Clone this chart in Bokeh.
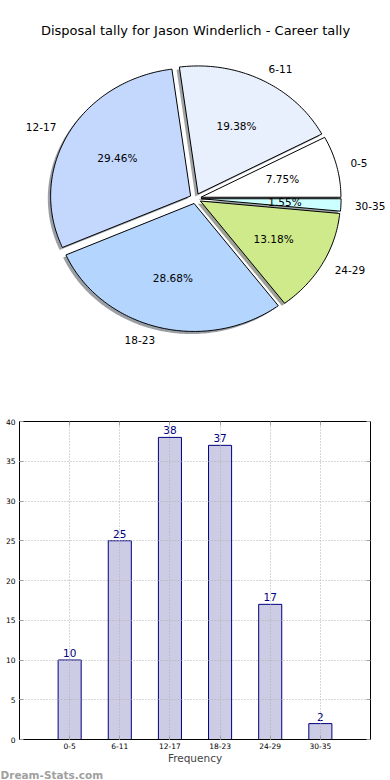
import numpy as np
from bokeh.plotting import figure
from bokeh.models import (ColumnDataSource, Range1d, FactorRange, Label, Title,
                          LinearAxis, CategoricalAxis, FixedTicker)
from bokeh.core.properties import value
from bokeh.embed import file_html
from bokeh.resources import INLINE

# ---------------- data ----------------
categories = ["0-5", "6-11", "12-17", "18-23", "24-29", "30-35"]
tally = [10, 25, 38, 37, 17, 2]
pie_colors = ["#FFFFFF", "#E8F0FE", "#C4D8FE", "#B4D5FE", "#CEEA8A", "#CCFFFF"]
title_text = "Disposal tally for Jason Winderlich - Career tally"
x_axis_label = "Frequency"
y_ticks = [0, 5, 10, 15, 20, 25, 30, 35, 40]
watermark = "Dream-Stats.com"

FONT = value("DejaVu Sans")

# ---------------- pie ----------------
explode = 0.04
total = float(sum(tally))
fracs = [v / total for v in tally]
starts = np.concatenate([[0.0], np.cumsum(fracs)[:-1]]) * 360.0
ends = np.cumsum(fracs) * 360.0

xs, ys, sxs, sys_, shadow_cols = [], [], [], [], []
lab_l = dict(x=[], y=[], text=[])
lab_r = dict(x=[], y=[], text=[])
pct = dict(x=[], y=[], text=[])

def darken(hexcol):
    h = hexcol.lstrip("#")
    r, g, b = (int(h[i:i + 2], 16) for i in (0, 2, 4))
    return "#%02x%02x%02x" % (int(r * 0.3), int(g * 0.3), int(b * 0.3))

for cat, t1, t2, fr, col in zip(categories, starts, ends, fracs, pie_colors):
    mid = np.radians((t1 + t2) / 2.0)
    ox, oy = explode * np.cos(mid), explode * np.sin(mid)
    n = max(3, int(t2 - t1) + 3)
    arc = np.radians(np.linspace(t1, t2, n))
    px = [ox] + list(ox + np.cos(arc))
    py = [oy] + list(oy + np.sin(arc))
    xs.append(px)
    ys.append(py)
    sxs.append([v - 0.02 for v in px])
    sys_.append([v - 0.02 for v in py])
    shadow_cols.append(darken(col))
    lx = ox + 1.1 * np.cos(mid)
    ly = oy + 1.1 * np.sin(mid)
    d = lab_l if lx > 0 else lab_r
    d["x"].append(lx)
    d["y"].append(ly)
    d["text"].append(cat)
    pct["x"].append(ox + 0.6 * np.cos(mid))
    pct["y"].append(oy + 0.6 * np.sin(mid))
    pct["text"].append("%.2f%%" % (fr * 100))

PW, PH = 390, 380
RX, RY = 140.0, 128.0
CX, CY = 195.0, 198.0
pie = figure(width=PW, height=PH, output_backend="svg", toolbar_location=None,
             x_range=Range1d(-CX / RX, (PW - CX) / RX),
             y_range=Range1d(-(PH - CY) / RY, CY / RY),
             x_axis_type=None, y_axis_type=None, min_border=0)
pie.outline_line_color = None
pie.grid.visible = False

pie.patches(xs=sxs, ys=sys_, fill_color=shadow_cols, fill_alpha=0.5, line_color=None)
pie.patches(xs=xs, ys=ys, fill_color=pie_colors, line_color="black", line_width=1)

pie.text(x="x", y="y", text="text", source=ColumnDataSource(lab_l),
         text_align="left", text_baseline="middle", text_font=FONT,
         text_font_size="10.5px", text_color="black")
pie.text(x="x", y="y", text="text", source=ColumnDataSource(lab_r),
         text_align="right", text_baseline="middle", text_font=FONT,
         text_font_size="10.5px", text_color="black")
pie.text(x="x", y="y", text="text", source=ColumnDataSource(pct),
         text_align="center", text_baseline="middle", text_font=FONT,
         text_font_size="10.5px", text_color="black")

pie.add_layout(Label(x=0, y=(CY - 30.0) / RY, text=title_text,
                     text_align="center", text_baseline="middle",
                     text_font="DejaVu Sans", text_font_size="13px",
                     text_color="black"))

# ---------------- bar ----------------
bar = figure(width=390, height=400, output_backend="svg", toolbar_location=None,
             x_range=FactorRange(factors=categories, range_padding=0.5,
                                 range_padding_units="absolute"),
             y_range=Range1d(0, 40),
             min_border_left=19, min_border_right=20,
             min_border_top=41, min_border_bottom=40)
bar.outline_line_color = "black"
bar.outline_line_width = 1

src = ColumnDataSource(dict(cat=categories, val=tally,
                            lbl=[str(v) for v in tally]))
bar.vbar(x="cat", top="val", bottom=0, width=0.46, source=src,
         fill_color="#CCCCE4", line_color="#000080", line_width=1)
bar.text(x="cat", y="val", text="lbl", source=src, text_align="center",
         text_baseline="bottom", y_offset=-3, text_font=FONT,
         text_font_size="10.5px", text_color="#000080")

for ax in (bar.xaxis[0], bar.yaxis[0]):
    ax.axis_line_color = "black"
    ax.major_tick_in = 4
    ax.major_tick_out = 0
    ax.major_tick_line_color = "#999999"
    ax.minor_tick_line_color = None
    ax.major_label_text_font = "DejaVu Sans"
    ax.major_label_text_font_size = "7.5px"
    ax.major_label_text_color = "black"

bar.yaxis[0].ticker = FixedTicker(ticks=y_ticks)
bar.yaxis[0].major_label_standoff = 4
bar.xaxis[0].major_label_standoff = 3
bar.xaxis[0].axis_label = x_axis_label
bar.xaxis[0].axis_label_text_font = "DejaVu Sans"
bar.xaxis[0].axis_label_text_font_size = "10.5px"
bar.xaxis[0].axis_label_text_font_style = "normal"
bar.xaxis[0].axis_label_standoff = 0

ra = LinearAxis(ticker=FixedTicker(ticks=y_ticks), axis_line_color=None,
                major_tick_in=4, major_tick_out=0, major_tick_line_color="#999999",
                minor_tick_line_color=None, major_label_text_font_size="1px",
                major_label_text_color=None, major_label_standoff=0)
bar.add_layout(ra, "right")
ta = CategoricalAxis(axis_line_color=None, major_tick_in=4, major_tick_out=0,
                     major_tick_line_color="#999999",
                     major_label_text_font_size="1px",
                     major_label_text_color=None, major_label_standoff=0)
bar.add_layout(ta, "above")

bar.xgrid.grid_line_color = "#b0b0b0"
bar.xgrid.grid_line_dash = "1 2"
bar.ygrid.grid_line_color = "#b0b0b0"
bar.ygrid.grid_line_dash = "1 2"
bar.ygrid.ticker = FixedTicker(ticks=y_ticks)
bar.xgrid.level = "annotation"
bar.ygrid.level = "annotation"

bar.add_layout(Title(text=watermark, align="left", offset=-19, standoff=0,
                     text_font="DejaVu Sans", text_font_size="10.5px",
                     text_font_style="bold", text_color="#a0a0a0"), "below")

open("out.html", "w").write(file_html([pie, bar], INLINE))
